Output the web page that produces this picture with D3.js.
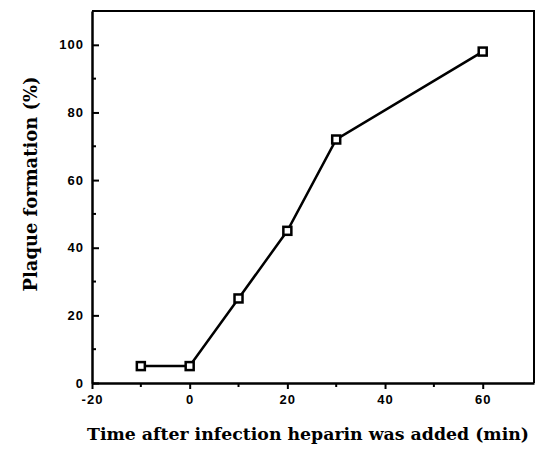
<!DOCTYPE html>
<html lang="en">
<head>
  <meta charset="UTF-8">
  <title>Plaque formation</title>
  <script src="https://cdn.jsdelivr.net/npm/d3@7"></script>
  <style>
    body { margin: 0; background: #fff; }
  </style>
</head>
<body>
<div id="chart"></div>
<script>
// data
const times = [-10, 0, 10, 20, 30, 60];
const plaque = [5, 5, 25, 45, 72, 98];
const xTicks = [-20, 0, 20, 40, 60];
const xMinor = [-10, 10, 30, 50];
const yTicks = [0, 20, 40, 60, 80, 100];
const yMinor = [10, 30, 50, 70, 90];

const W = 540, H = 452;
const margin = { top: 11, right: 6, bottom: 69, left: 92 };
const width = W - margin.left - margin.right;
const height = H - margin.top - margin.bottom;

const svg = d3.select("#chart").append("svg")
  .attr("width", W)
  .attr("height", H);

const g = svg.append("g")
  .attr("transform", `translate(${margin.left},${margin.top})`);

const x = d3.scaleLinear().domain([-20, 70.5]).range([0, width]);
const y = d3.scaleLinear().domain([0, 110]).range([height, 0]);

const tickFont = "'Liberation Sans', Arial, sans-serif";
const titleFont = "'DejaVu Serif', serif";

// frame top + right
g.append("path")
  .attr("d", `M0,0H${width}V${height}`)
  .attr("fill", "none")
  .attr("stroke", "#000")
  .attr("stroke-width", 2);

// x axis, ticks point down
const xAxisG = g.append("g")
  .attr("transform", `translate(0,${height})`)
  .call(d3.axisBottom(x).tickValues(xTicks).tickSize(6).tickPadding(6).tickSizeOuter(0)
    .tickFormat(d => d < 0 ? "-" + Math.abs(d) : d));
xAxisG.append("g").selectAll("line")
  .data(xMinor).enter().append("line")
  .attr("x1", d => x(d)).attr("x2", d => x(d))
  .attr("y1", 0).attr("y2", 4)
  .attr("stroke", "#000").attr("stroke-width", 2);

// y axis, ticks point inward
const yAxisG = g.append("g")
  .call(d3.axisLeft(y).tickValues(yTicks).tickSize(-7).tickPadding(9).tickSizeOuter(0));
yAxisG.append("g").selectAll("line")
  .data(yMinor).enter().append("line")
  .attr("x1", 0).attr("x2", 4)
  .attr("y1", d => y(d)).attr("y2", d => y(d))
  .attr("stroke", "#000").attr("stroke-width", 2);

[xAxisG, yAxisG].forEach(a => {
  a.select(".domain").attr("stroke-width", 2.5);
  a.selectAll(".tick line").attr("stroke-width", 2).attr("stroke", "#000");
  a.selectAll(".tick text")
    .attr("font-family", tickFont)
    .attr("font-weight", "bold")
    .attr("font-size", 13)
    .attr("letter-spacing", 1)
    .attr("fill", "#000");
});
yAxisG.selectAll(".tick text").attr("x", -8);

// data line
const pts = times.map((t, i) => [t, plaque[i]]);
g.append("path")
  .datum(pts)
  .attr("fill", "none")
  .attr("stroke", "#000")
  .attr("stroke-width", 2.5)
  .attr("d", d3.line().x(d => x(d[0])).y(d => y(d[1])));

// square markers
g.selectAll("rect.pt")
  .data(pts).enter().append("rect")
  .attr("class", "pt")
  .attr("x", d => x(d[0]) - 4)
  .attr("y", d => y(d[1]) - 4)
  .attr("width", 8).attr("height", 8)
  .attr("fill", "#fff")
  .attr("stroke", "#000")
  .attr("stroke-width", 2.5);

// axis titles
svg.append("text")
  .attr("x", 308).attr("y", 440)
  .attr("text-anchor", "middle")
  .attr("font-family", titleFont)
  .attr("font-weight", "bold")
  .attr("font-size", 17.5)
  .attr("textLength", 442)
  .attr("lengthAdjust", "spacingAndGlyphs")
  .text("Time after infection heparin was added (min)");

svg.append("text")
  .attr("transform", "translate(37,184) rotate(-90)")
  .attr("text-anchor", "middle")
  .attr("font-family", titleFont)
  .attr("font-weight", "bold")
  .attr("font-size", 18)
  .attr("textLength", 215)
  .attr("lengthAdjust", "spacingAndGlyphs")
  .text("Plaque formation (%)");
</script>
</body>
</html>
